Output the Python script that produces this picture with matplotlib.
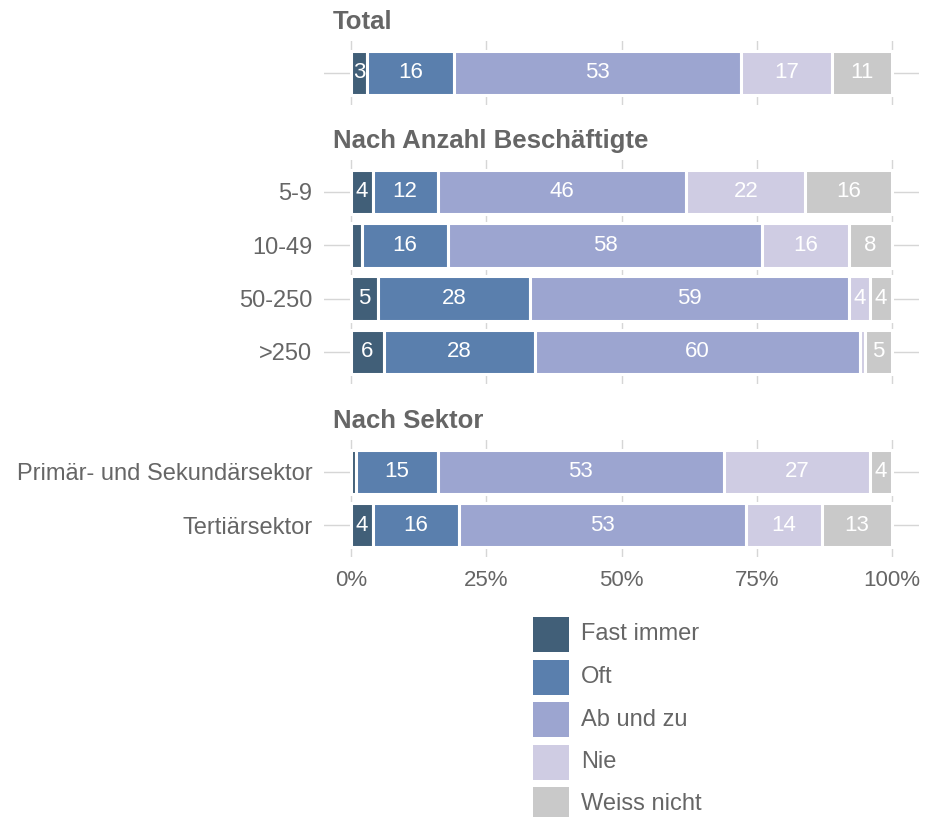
import matplotlib
matplotlib.use("Agg")
import matplotlib.pyplot as plt
from matplotlib.patches import Rectangle

plt.rcParams['font.family'] = ['Liberation Sans', 'DejaVu Sans']

# Response categories and colours
responses = ["Fast immer", "Oft", "Ab und zu", "Nie", "Weiss nicht"]
colors = ["#415f78", "#5a7fad", "#9ca5d0", "#cfcce3", "#c9c9c9"]

# Panels: title, row labels, shares per row (percent)
total_labels = ["Total"]
total_values = [[3, 16, 53, 17, 11]]

size_labels = ["5-9", "10-49", "50-250", ">250"]
size_values = [
    [4, 12, 46, 22, 16],
    [2, 16, 58, 16, 8],
    [5, 28, 59, 4, 4],
    [6, 28, 60, 1, 5],
]

sector_labels = ["Primär- und Sekundärsektor", "Tertiärsektor"]
sector_values = [
    [1, 15, 53, 27, 4],
    [4, 16, 53, 14, 13],
]

panels = [
    ("Total", [""], total_values, 41, 105),
    ("Nach Anzahl Beschäftigte", size_labels, size_values, 160, 384),
    ("Nach Sektor", sector_labels, sector_values, 440, 557),
]

W, H = 925, 817
fig = plt.figure(figsize=(W / 100, H / 100), dpi=100)

TEXT = "#666666"
GRID = "#d6d6d6"
x_left, x_right = 324, 919
bar_h = 0.84

axes = []
for title, labels, values, top, bottom in panels:
    ax = fig.add_axes([x_left / W, (H - bottom) / H, (x_right - x_left) / W, (bottom - top) / H])
    axes.append(ax)
    n = len(labels)
    ypos = list(range(1, n + 1))
    left = [0.0] * n
    for k, (resp, col) in enumerate(zip(responses, colors)):
        vals = [row[k] for row in values]
        ax.barh(ypos, vals, left=left, height=bar_h, color=col,
                edgecolor="white", linewidth=2.2, zorder=2)
        for y, l, v in zip(ypos, left, vals):
            if v >= 3:
                ax.text(l + v / 2, y, f"{v}", ha="center", va="center",
                        color="white", fontsize=16, zorder=3)
        left = [a + b for a, b in zip(left, vals)]
    ax.set_xlim(-5, 105)
    ax.set_ylim(n + 0.6, 0.4)
    ax.set_yticks(ypos)
    ax.set_yticklabels(labels, fontsize=17)
    ax.set_xticks([0, 25, 50, 75, 100])
    ax.grid(True, color=GRID, linewidth=1.0, zorder=0)
    ax.set_axisbelow(True)
    for s in ax.spines.values():
        s.set_visible(False)
    ax.tick_params(axis="both", length=0, colors=TEXT)
    ax.tick_params(axis="x", labelsize=16)
    ax.tick_params(axis="y", pad=8.5)
    ax.annotate(title, xy=(9 / (x_right - x_left), 1), xycoords="axes fraction",
                xytext=(0, 14), textcoords="offset points",
                ha="left", va="center", fontsize=18.5, fontweight="bold", color=TEXT)

for ax in axes[:-1]:
    ax.set_xticklabels([])
axes[-1].set_xticklabels(["0%", "25%", "50%", "75%", "100%"])
axes[-1].tick_params(axis="x", pad=9)

# Legend: colour swatches with labels, stacked vertically below the panels
sw_x, sw_w, sw_h, first_top, step = 533, 36, 35, 617, 42.5
for i, (resp, col) in enumerate(zip(responses, colors)):
    top = first_top + i * step
    fig.add_artist(Rectangle((sw_x / W, (H - top - sw_h) / H), sw_w / W, sw_h / H,
                             transform=fig.transFigure, facecolor=col, edgecolor="none"))
    fig.text((sw_x + sw_w + 12) / W, (H - top - sw_h / 2) / H, resp,
             ha="left", va="center", fontsize=17, color=TEXT)

fig.savefig("out.png", dpi=100)
